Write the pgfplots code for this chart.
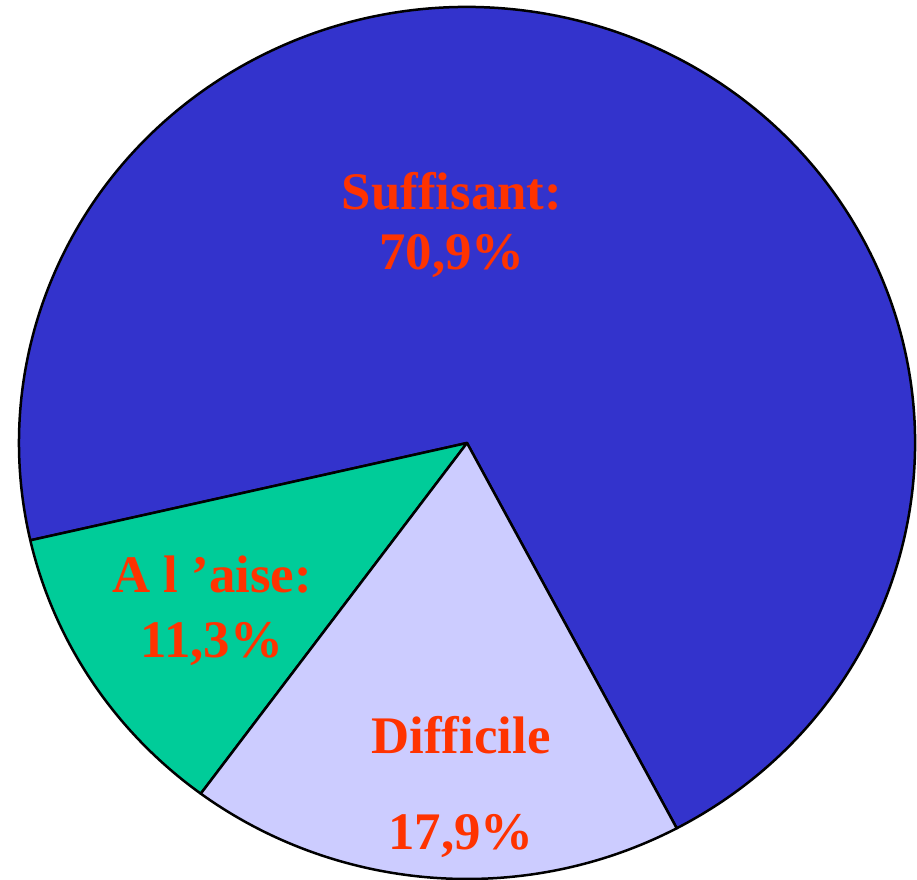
\documentclass[border=0pt]{standalone}
\usepackage{pgfplots}
\usepackage{pgfplotstable}
\pgfplotsset{compat=1.18}
\usepackage{fontspec}
\setmainfont{Liberation Serif}
\definecolor{suff}{HTML}{3333CC}
\definecolor{aise}{HTML}{00CC99}
\definecolor{diff}{HTML}{CCCCFF}
\definecolor{lab}{HTML}{FF3300}
\pgfplotstableread{
label value
aise 11.3
diff 17.9
suff 70.9
}\piedata
\begin{document}
\begin{tikzpicture}
\pgfplotstablegetelem{0}{value}\of\piedata \let\va\pgfplotsretval
\pgfplotstablegetelem{1}{value}\of\piedata \let\vb\pgfplotsretval
\pgfplotstablegetelem{2}{value}\of\piedata \let\vc\pgfplotsretval
\pgfmathsetmacro{\tot}{\va+\vb+\vc}
\pgfmathsetmacro{\aA}{192.9}
\pgfmathsetmacro{\aB}{\aA+360*\va/\tot}
\pgfmathsetmacro{\aC}{\aB+360*\vb/\tot}
\pgfmathsetmacro{\aD}{\aA+360}
\begin{axis}[x=1bp,y=1bp,xmin=0,xmax=917,ymin=0,ymax=880,hide axis,clip=false,scale only axis]
\coordinate (ll) at (axis cs:0,0);
\coordinate (ur) at (axis cs:917,880);
\filldraw[fill=suff,draw=black,line width=2.5bp,line join=round] (axis cs:467,437) -- ++(\aC:448bp and 436bp) arc[start angle=\aC,end angle=\aD,x radius=448bp,y radius=436bp] -- cycle;
\filldraw[fill=aise,draw=black,line width=2.5bp,line join=round] (axis cs:467,437) -- ++(\aA:448bp and 436bp) arc[start angle=\aA,end angle=\aB,x radius=448bp,y radius=436bp] -- cycle;
\filldraw[fill=diff,draw=black,line width=2.5bp,line join=round] (axis cs:467,437) -- ++(\aB:448bp and 436bp) arc[start angle=\aB,end angle=\aC,x radius=448bp,y radius=436bp] -- cycle;
\begin{scope}[every node/.style={anchor=base,inner sep=0pt,text=lab,font=\fontsize{53}{63}\selectfont\bfseries}]
\node at (axis cs:452,670) {Suffisant:};
\node at (axis cs:452,610) {70,9\%};
\node at (axis cs:212,287) {A l ’aise:};
\node at (axis cs:212,222) {11,3\%};
\node at (axis cs:461,126) {Difficile};
\node at (axis cs:461,30) {17,9\%};
\end{scope}
\end{axis}
\pgfresetboundingbox
\useasboundingbox (ll) rectangle (ur);
\end{tikzpicture}
\end{document}
